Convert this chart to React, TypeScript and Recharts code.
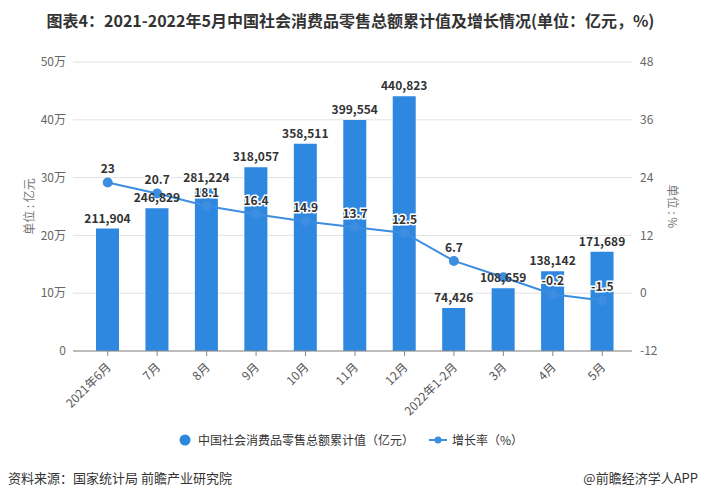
import { ComposedChart, Bar, Line, XAxis, YAxis, CartesianGrid, LabelList } from "recharts";

const months = ["2021年6月", "7月", "8月", "9月", "10月", "11月", "12月", "2022年1-2月", "3月", "4月", "5月"];
const totalValues = [211904, 246829, 281224, 318057, 358511, 399554, 440823, 74426, 108659, 138142, 171689];
const growthValues = [23, 20.7, 18.1, 16.4, 14.9, 13.7, 12.5, 6.7, 3.3, -0.2, -1.5];
const leftTicks = [0, 100000, 200000, 300000, 400000, 500000];
const rightTicks = [-12, 0, 12, 24, 36, 48];

const data = months.map((m, i) => ({ month: m, total: totalValues[i], growth: growthValues[i] }));

const FONT = '"Noto Sans CJK SC", "Noto Sans", sans-serif';
const BAR_COLOR = "#2f88e0";
const LINE_COLOR = "#3d8de0";

const XTick = (props: any) => {
  const { x, y, payload } = props;
  return (
    <text
      x={x + 4}
      y={y + 10}
      transform={`rotate(-45, ${x + 4}, ${y + 10})`}
      textAnchor="end"
      fontSize={12}
      fill="#555"
      fontFamily={FONT}
    >
      {payload.value}
    </text>
  );
};

const fmtTotal = (v: any) => Number(v).toLocaleString("en-US");
const fmtLeft = (v: number) => (v === 0 ? "0" : `${v / 10000}万`);

// the 3月 label is hidden behind the bar label in the source picture
const GrowthLabel = (props: any) => {
  const { x, y, value, index } = props;
  if (index === 8) return null;
  return (
    <text
      x={x}
      y={y - 9}
      textAnchor="middle"
      fontSize={12}
      fontWeight="bold"
      fill="#333"
      stroke="#fff"
      strokeWidth={3}
      paintOrder="stroke"
      fontFamily={FONT}
    >
      {value}
    </text>
  );
};

const AxisName = (props: any) => {
  const { viewBox, text, side } = props;
  const cy = viewBox.y + viewBox.height / 2;
  const cx = side === "left" ? 28 : 673;
  const angle = side === "left" ? -90 : 90;
  return (
    <text
      x={cx}
      y={cy}
      transform={`rotate(${angle}, ${cx}, ${cy})`}
      textAnchor="middle"
      dominantBaseline="central"
      fontSize={12}
      fill="#777"
      fontFamily={FONT}
    >
      {text}
    </text>
  );
};

export default function App() {
  return (
    <div style={{ position: "absolute", left: 0, top: 0, width: 701, height: 497, background: "#fff", fontFamily: FONT }}>
      <div
        style={{
          position: "absolute",
          top: 8,
          left: 0,
          width: 701,
          textAlign: "center",
          fontSize: 16,
          fontWeight: "bold",
          color: "#333",
          lineHeight: "24px",
          whiteSpace: "nowrap",
        }}
      >
        图表4：2021-2022年5月中国社会消费品零售总额累计值及增长情况(单位：亿元，%)
      </div>
      <ComposedChart
        width={701}
        height={497}
        data={data}
        margin={{ top: 62, right: 0, bottom: 86, left: 0 }}
        style={{ position: "absolute", left: 0, top: 0 }}
      >
        <CartesianGrid vertical={false} stroke="#e2e2e2" yAxisId="left" />
        <XAxis
          dataKey="month"
          interval={0}
          padding={{ left: 10, right: 5 }}
          height={60}
          tick={<XTick />}
          tickSize={5}
          axisLine={{ stroke: "#888" }}
          tickLine={{ stroke: "#888" }}
        />
        <YAxis
          yAxisId="left"
          width={73}
          domain={[0, 500000]}
          ticks={leftTicks}
          tickFormatter={fmtLeft}
          axisLine={false}
          tickLine={false}
          tickSize={0}
          tickMargin={7}
          tick={{ fontSize: 12, fill: "#666", fontFamily: FONT }}
          label={<AxisName side="left" text="单位 : 亿元" />}
        />
        <YAxis
          yAxisId="right"
          orientation="right"
          width={69}
          domain={[-12, 48]}
          ticks={rightTicks}
          axisLine={false}
          tickLine={false}
          tickSize={0}
          tickMargin={8}
          tick={{ fontSize: 12, fill: "#666", fontFamily: FONT }}
          label={<AxisName side="right" text="单位 : %" />}
        />
        <Line
          yAxisId="right"
          dataKey="growth"
          stroke={LINE_COLOR}
          strokeWidth={2}
          dot={{ r: 4, fill: LINE_COLOR, stroke: LINE_COLOR }}
          isAnimationActive={false}
        />
        <Bar yAxisId="left" dataKey="total" fill={BAR_COLOR} barSize={23} isAnimationActive={false}>
          <LabelList
            dataKey="total"
            position="top"
            offset={6}
            formatter={fmtTotal}
            style={{ fontSize: 12, fontWeight: "bold", fill: "#333", fontFamily: FONT }}
          />
        </Bar>
        <Line
          yAxisId="right"
          dataKey="growth"
          stroke="none"
          dot={false}
          activeDot={false}
          legendType="none"
          isAnimationActive={false}
        >
          <LabelList dataKey="growth" content={<GrowthLabel />} />
        </Line>
      </ComposedChart>
      <div
        style={{
          position: "absolute",
          top: 431,
          left: 178,
          display: "flex",
          alignItems: "center",
          fontSize: 12,
          color: "#333",
          whiteSpace: "nowrap",
        }}
      >
        <svg width={14} height={14} style={{ marginRight: 6 }}>
          <circle cx={7} cy={7} r={5.5} fill={BAR_COLOR} />
        </svg>
        <span>中国社会消费品零售总额累计值（亿元）</span>
        <svg width={20} height={14} style={{ marginLeft: 14, marginRight: 4 }}>
          <line x1={1} y1={7} x2={19} y2={7} stroke={LINE_COLOR} strokeWidth={2} />
          <circle cx={10} cy={7} r={3.5} fill={LINE_COLOR} />
        </svg>
        <span>增长率（%）</span>
      </div>
      <div style={{ position: "absolute", top: 468, left: 8, fontSize: 13, color: "#333", whiteSpace: "nowrap" }}>
        资料来源：国家统计局 前瞻产业研究院
      </div>
      <div style={{ position: "absolute", top: 468, right: 3, fontSize: 13, color: "#333", whiteSpace: "nowrap" }}>
        @前瞻经济学人APP
      </div>
    </div>
  );
}
